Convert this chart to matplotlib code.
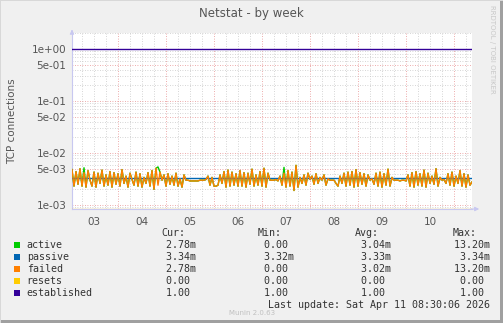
import matplotlib.pyplot as plt
import numpy as np
from matplotlib.ticker import FixedLocator, NullFormatter

# samples (milli-connections), one per hour, starting day 3.04
failed = [4.8, 2.3, 4.4, 2.5, 5.0, 2.3, 4.2, 2.2, 4.6, 3.0, 2.3, 4.3, 2.2, 4.1, 2.6, 4.7, 2.3, 3.8, 2.4, 4.4,
          2.2, 4.2, 2.5, 4.0, 2.3, 4.8, 2.6, 3.6, 2.2, 4.1, 3.1, 2.4, 4.3, 2.3, 4.0, 2.2, 3.4, 2.6, 4.2, 2.3,
          4.6, 2.0, 5.1, 2.4, 4.3, 3.0, 3.8, 2.3, 4.0, 2.5, 3.6, 2.4, 4.1, 2.3, 3.2, 2.2, 3.8, 3.0, 3.0, 2.9,
          2.9, 2.9, 2.9, 2.9, 3.0, 3.0, 3.0, 3.1, 3.6, 2.4, 3.4, 2.3, 2.3, 2.4, 3.8, 2.6, 4.4, 2.2, 4.7, 2.3,
          4.3, 2.4, 4.0, 2.3, 4.6, 2.3, 4.2, 2.2, 4.1, 2.5, 4.9, 2.3, 3.8, 2.4, 4.4, 2.3, 5.1, 2.2, 4.1, 3.0,
          3.0, 3.0, 3.1, 2.9, 3.6, 2.4, 4.1, 2.2, 4.6, 2.3, 4.3, 1.9, 5.8, 2.2, 3.4, 2.6, 3.8, 2.4, 4.1, 3.1,
          3.6, 2.5, 4.0, 2.6, 3.4, 3.0, 3.8, 2.4, 3.2, 3.0, 3.0, 3.0, 2.6, 2.3, 3.6, 2.6, 4.1, 2.3, 4.3, 2.4,
          4.4, 2.2, 4.8, 2.3, 4.2, 2.5, 4.0, 2.3, 3.8, 3.0, 3.2, 2.5, 4.1, 2.3, 4.3, 2.2, 4.0, 2.4, 4.9, 2.3,
          3.4, 3.0, 3.0, 3.0, 2.9, 3.0, 3.0, 2.9, 3.8, 2.3, 4.2, 2.2, 4.4, 2.4, 4.0, 2.3, 4.7, 2.2, 4.1, 2.6,
          3.6, 2.5, 5.0, 2.3, 3.4, 3.0, 3.1, 2.6, 4.0, 2.4, 4.3, 2.3, 3.6, 2.6, 4.6, 2.3, 4.0, 2.2, 3.8, 2.4, 2.78]
active = [4.8, 2.3, 4.4, 2.5, 5.0, 2.3, 5.2, 2.2, 4.6, 3.0, 2.3, 4.3, 2.2, 4.1, 2.6, 4.7, 2.3, 3.8, 2.4, 4.4,
          2.2, 4.2, 2.5, 4.0, 2.3, 4.8, 2.6, 3.6, 2.2, 4.1, 3.1, 2.4, 4.3, 2.3, 4.0, 2.2, 3.4, 2.6, 4.2, 2.3,
          4.6, 2.0, 5.1, 5.4, 4.3, 3.0, 3.8, 2.3, 4.0, 2.5, 3.6, 2.4, 4.1, 2.3, 3.2, 2.2, 3.8, 3.0, 3.0, 2.9,
          2.9, 2.9, 2.9, 2.9, 3.0, 3.0, 3.0, 3.1, 3.6, 2.4, 3.4, 2.3, 2.3, 2.4, 3.8, 2.6, 4.4, 2.2, 4.7, 2.3,
          4.3, 2.4, 4.0, 2.3, 4.6, 2.3, 4.2, 2.2, 4.1, 2.5, 4.9, 2.3, 3.8, 2.4, 4.4, 2.3, 5.1, 2.2, 4.1, 3.0,
          3.0, 3.0, 3.1, 2.9, 3.6, 2.4, 5.3, 2.2, 4.6, 2.3, 4.3, 1.9, 5.8, 2.2, 3.4, 2.6, 3.8, 2.4, 4.1, 3.1,
          3.6, 2.5, 4.0, 2.6, 3.4, 3.0, 3.8, 2.4, 3.2, 3.0, 3.0, 3.0, 2.6, 2.3, 3.6, 2.6, 4.1, 2.3, 4.3, 2.4,
          4.4, 2.2, 4.8, 2.3, 4.2, 2.5, 4.0, 2.3, 3.8, 3.0, 3.2, 2.5, 4.1, 2.3, 4.3, 2.2, 4.0, 2.4, 4.9, 2.3,
          3.4, 3.0, 3.0, 3.0, 2.9, 3.0, 3.0, 2.9, 3.8, 2.3, 4.2, 2.2, 4.4, 2.4, 4.0, 2.3, 4.7, 2.2, 4.1, 2.6,
          3.6, 2.5, 5.0, 2.3, 3.4, 3.0, 3.1, 2.6, 4.0, 2.4, 4.3, 2.3, 3.6, 2.6, 4.6, 2.3, 4.0, 2.2, 3.8, 2.4, 2.78]
passive = 3.33e-3
resets = 0.0
established = 1.0
t_start, step_h = 3.04, 1.0

day_labels = ["03", "04", "05", "06", "07", "08", "09", "10"]
ytick_vals = [1e0, 5e-1, 1e-1, 5e-2, 1e-2, 5e-3, 1e-3]
ytick_labels = ["1e+00", "5e-01", "1e-01", "5e-02", "1e-02", "5e-03", "1e-03"]

legend_names = ["active", "passive", "failed", "resets", "established"]
legend_colors = ["#00CC00", "#0066B3", "#FF8000", "#FFCC00", "#330099"]
cur = ["2.78m", "3.34m", "2.78m", "0.00", "1.00"]
vmin = ["0.00", "3.32m", "0.00", "0.00", "1.00"]
vavg = ["3.04m", "3.33m", "3.02m", "0.00", "1.00"]
vmax = ["13.20m", "3.34m", "13.20m", "0.00", "1.00"]

W, H = 503, 323


def px(x, y):
    return x / W, 1 - y / H


fig = plt.figure(figsize=(W / 100, H / 100), dpi=100, facecolor="#F0F0F0")
ax = fig.add_axes([72 / W, 1 - 209 / H, 400 / W, 176 / H])
ax.set_facecolor("white")

t = t_start + np.arange(len(failed)) * step_h / 24.0
t_end = t_start + 200 / 24.0
ax.plot(t, np.array(active) * 1e-3, color="#00CC00", lw=1.0, zorder=3)
ax.plot([t_start, t_end], [passive, passive], color="#0066B3", lw=1.0, zorder=3)
ax.plot(t, np.array(failed) * 1e-3, color="#FF8000", lw=1.0, zorder=4)
ax.plot([t_start, t_end], [established, established], color="#330099", lw=1.0, zorder=4)

ax.set_yscale("log")
ymin, ymax = 10 ** (-3 - 4 / 52), 10 ** (16 / 52)
ax.set_ylim(ymin, ymax)
ax.set_xlim(t_start, t_end)
# resets = 0 sits on the floor of the log axis
ax.axhline(ymin * 1.01, color="#E0C060", lw=1.0, zorder=5)

ax.yaxis.set_major_locator(FixedLocator(ytick_vals))
ax.set_yticklabels(ytick_labels)
minor_y = [m * 10.0 ** e for e in range(-4, 1) for m in [2, 3, 4, 6, 7, 8, 9]]
ax.yaxis.set_minor_locator(FixedLocator(minor_y))
ax.yaxis.set_minor_formatter(NullFormatter())

ax.xaxis.set_major_locator(FixedLocator(np.arange(4, 12)))
ax.xaxis.set_minor_locator(FixedLocator([d + q for d in range(3, 12) for q in (0.25, 0.5, 0.75)]))
ax.set_xticklabels([])
for i, lab in enumerate(day_labels):
    ax.text(3.5 + i, -0.045, lab, transform=ax.get_xaxis_transform(), ha="center", va="top",
            fontsize=7.5, color="#555555")

ax.grid(which="minor", color="#C8C8C8", linestyle=(0, (1, 2)), lw=0.6)
ax.grid(which="major", color="#E89090", linestyle=(0, (1, 2)), lw=0.6)
ax.tick_params(which="both", length=0)
ax.tick_params(axis="y", labelsize=7.5, labelcolor="#555555", pad=4)
for s in ["top", "right"]:
    ax.spines[s].set_visible(False)
ax.spines["left"].set_color("#C8C8F0")
ax.spines["bottom"].set_color("#C8C8F0")
ax.annotate("", xy=(0, 1.035), xytext=(0, 0.99), xycoords="axes fraction",
            arrowprops=dict(arrowstyle="-|>", color="#C8C8F0", lw=0.8, mutation_scale=6))
ax.annotate("", xy=(1.025, 0), xytext=(0.99, 0), xycoords="axes fraction",
            arrowprops=dict(arrowstyle="-|>", color="#C8C8F0", lw=0.8, mutation_scale=6))

fig.text(*px(251, 13), "Netstat - by week", ha="center", va="center", fontsize=8.5, color="#555555")
fig.text(*px(12, 121), "TCP connections", ha="center", va="center", rotation=90, fontsize=7.5,
         color="#555555")
fig.text(*px(492, 5), "RRDTOOL / TOBI OETIKER", ha="center", va="top", rotation=270, fontsize=5,
         color="#C8C8C8")

mono = dict(family="DejaVu Sans Mono", fontsize=7.2, color="#333333", va="center")
for x, h in zip([161, 257.7, 355.3, 452.7], ["Cur:", "Min:", "Avg:", "Max:"]):
    fig.text(*px(x, 233), h, **mono)
for r, name in enumerate(legend_names):
    y = 245 + r * 12
    fig.patches.append(plt.Rectangle(px(14, y + 3), 6 / W, 6 / H, transform=fig.transFigure,
                                     facecolor=legend_colors[r], edgecolor="none"))
    fig.text(*px(26.7, y), name, **mono)
    for x, v in zip([154, 252.3, 349, 447.5], [cur[r], vmin[r], vavg[r], vmax[r]]):
        s = v if v.endswith("m") else v + " "
        fig.text(*px(x, y), s.rjust(7), **mono)
fig.text(*px(489.5, 305), "Last update: Sat Apr 11 08:30:06 2026", ha="right", **mono)
fig.text(*px(252, 313), "Munin 2.0.63", ha="center", va="center", fontsize=5, color="#C0C0C0")

# frame shading
fig.patches.append(plt.Rectangle((1 - 3 / W, 0), 3 / W, 1, transform=fig.transFigure,
                                 facecolor="#A0A0A0", edgecolor="none"))
fig.patches.append(plt.Rectangle((0, 0), 1, 3 / H, transform=fig.transFigure,
                                 facecolor="#A0A0A0", edgecolor="none"))
fig.patches.append(plt.Rectangle((0, 1 - 1 / H), 1, 1 / H, transform=fig.transFigure,
                                 facecolor="#D8D8D8", edgecolor="none"))
fig.patches.append(plt.Rectangle((0, 0), 1 / W, 1, transform=fig.transFigure,
                                 facecolor="#D8D8D8", edgecolor="none"))

fig.savefig("out.png", dpi=100, facecolor=fig.get_facecolor())
